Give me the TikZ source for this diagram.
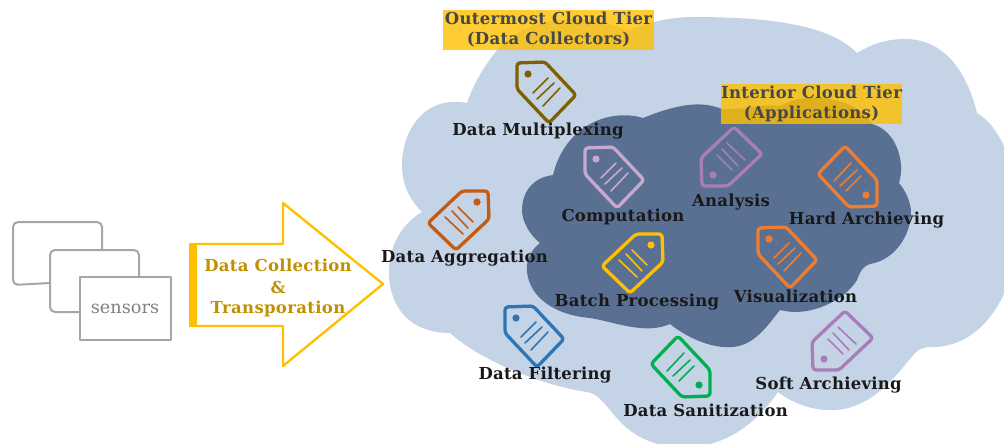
\documentclass[tikz,border=0pt]{standalone}
\usepackage{fontspec}
\setmainfont{DejaVu Serif}
\definecolor{cloudout}{HTML}{C4D3E6}
\definecolor{cloudin}{HTML}{5A7093}
\definecolor{amber}{HTML}{FFC000}
\definecolor{amberdark}{HTML}{BF9000}
\definecolor{greyline}{HTML}{A6A6A6}
\definecolor{tagbrown}{HTML}{7F6000}
\definecolor{tagrust}{HTML}{C55A11}
\definecolor{taglilac}{HTML}{C9A8D0}
\definecolor{tagpurple}{HTML}{A97DB8}
\definecolor{tagorange}{HTML}{ED7D31}
\definecolor{tagblue}{HTML}{2E75B6}
\definecolor{taggreen}{HTML}{00B050}
\newcommand{\lbl}[2]{\fontsize{#1}{20}\selectfont\bfseries\addfontfeature{LetterSpace=#2}}
\tikzset{
  pics/pricetag/.style={code={
    \draw[#1,line width=3.3pt,rounded corners=3pt,line join=round]
      (-28,-29) -- (0,-30) -- (31,3) -- (4,31) -- (-28,-3) -- cycle;
    \fill[#1] (-17,-18) circle (3.6);
    \draw[#1,line width=1.6pt,line cap=round] (-12,1) -- (3,-14);
    \draw[#1,line width=1.6pt,line cap=round] (-8,7) -- (9,-9);
    \draw[#1,line width=1.6pt,line cap=round] (-2,14) -- (15,-4);
  }},
  tagtext/.style={font=\lbl{16.5}{1.5},text=black!90,inner sep=0pt,anchor=center},
  tierbox/.style={fill=amber,fill opacity=.8,text opacity=1,text=black!72,font=\lbl{16.5}{2},
    align=center,inner sep=0pt,minimum width=#1,minimum height=40pt},
  sensorline/.style={draw=greyline,line width=2pt,line join=round},
  flowtext/.style={font=\lbl{16.5}{2},text=amberdark,inner sep=0pt}
}
\begin{document}
\begin{tikzpicture}[x=1pt,y=-1pt]
\useasboundingbox (0,0) rectangle (1004,444);
\begin{scope}
\clip (0,0) rectangle (1004,444);
% outer cloud
\fill[cloudout]
  (467,103) .. controls (425,95) and (402,130) .. (402,165)
  .. controls (402,185) and (410,200) .. (422,212)
  .. controls (400,225) and (389,248) .. (389,272)
  .. controls (389,305) and (408,333) .. (450,333)
  .. controls (480,360) and (540,385) .. (587,392)
  .. controls (612,395) and (615,447) .. (685,447)
  .. controls (725,447) and (755,425) .. (778,392)
  .. controls (795,405) and (815,411) .. (835,410)
  .. controls (875,408) and (900,370) .. (915,353)
  .. controls (920,348) and (925,347) .. (935,347)
  .. controls (985,345) and (1018,290) .. (1018,225)
  .. controls (1018,175) and (1005,130) .. (977,113)
  .. controls (965,65) and (940,39) .. (905,39)
  .. controls (885,39) and (870,45) .. (857,53)
  .. controls (830,25) and (770,17) .. (693,17)
  .. controls (670,17) and (645,23) .. (627,31)
  .. controls (590,12) and (525,15) .. (497,50)
  .. controls (483,68) and (473,85) .. (467,103) -- cycle;
% inner cloud
\fill[cloudin]
  (643,118) .. controls (610,108) and (565,125) .. (553,175)
  .. controls (530,178) and (522,195) .. (522,210)
  .. controls (522,222) and (530,235) .. (540,243)
  .. controls (528,252) and (526,265) .. (527,272)
  .. controls (530,298) and (555,315) .. (590,318)
  .. controls (615,322) and (645,335) .. (670,324)
  .. controls (690,340) and (715,349) .. (733,347)
  .. controls (755,345) and (768,325) .. (780,310)
  .. controls (810,318) and (845,300) .. (857,280)
  .. controls (860,272) and (862,267) .. (870,264)
  .. controls (895,260) and (911,235) .. (911,212)
  .. controls (911,202) and (905,190) .. (899,183)
  .. controls (906,160) and (895,130) .. (872,124)
  .. controls (860,105) and (835,97) .. (810,98)
  .. controls (798,98) and (788,102) .. (780,106)
  .. controls (765,103) and (745,110) .. (722,109)
  .. controls (700,100) and (675,105) .. (643,118) -- cycle;
\end{scope}
% sensors
\draw[sensorline,rounded corners=5pt] (50,283) -- (13,285) -- (13,222) -- (102,222) -- (102,250);
\draw[sensorline,rounded corners=5pt] (79,312) -- (50,312) -- (50,250) -- (139,250) -- (139,277);
\node[sensorline,minimum width=91pt,minimum height=63pt,inner sep=0pt,text=black!50,font=\fontsize{17.7}{20}\selectfont] (sensors) at (125,308.5) {sensors};
% flow arrow
\fill[amber] (189,243) rectangle (197,327);
\draw[amber,line width=2.4pt,line join=round] (197,244) -- (283,244) -- (283,203) -- (383,284) -- (283,366) -- (283,326) -- (197,326);
\node[flowtext] (flowa) at (278,265) {Data Collection};
\node[flowtext] (flowb) at (278,287) {\&};
\node[flowtext] (flowc) at (278,309) {Transporation};
% tier labels
\node[tierbox=211pt] (outer) at (548.5,30) {Outermost Cloud Tier\\(Data Collectors)};
\node[tierbox=181pt] (inner) at (811.5,104) {Interior Cloud Tier\\(Applications)};
% tags
\pic at (545,92) {pricetag=tagbrown};
\pic[rotate=-90] at (459,219) {pricetag=tagrust};
\pic at (613,177) {pricetag=taglilac};
\pic[rotate=90] at (731,158) {pricetag=tagpurple};
\pic[rotate=180] at (849,177) {pricetag=tagorange};
\pic[rotate=-90] at (633,262) {pricetag=amber};
\pic at (786,257) {pricetag=tagorange};
\pic at (533,336) {pricetag=tagblue};
\pic[rotate=180] at (682,367) {pricetag=taggreen};
\pic[rotate=90] at (842,342) {pricetag=tagpurple};
% tag labels
\node[tagtext] (t1) at (538,131.5) {Data Multiplexing};
\node[tagtext] (t2) at (464.5,258.5) {Data Aggregation};
\node[tagtext] (t3) at (623,216.5) {Computation};
\node[tagtext] (t4) at (731,202.5) {Analysis};
\node[tagtext] (t5) at (866.5,220.5) {Hard Archieving};
\node[tagtext] (t6) at (637,302.5) {Batch Processing};
\node[tagtext] (t7) at (795.5,296.5) {Visualization};
\node[tagtext] (t8) at (545,375.5) {Data Filtering};
\node[tagtext] (t9) at (705.5,410.5) {Data Sanitization};
\node[tagtext] (t10) at (828.5,385.5) {Soft Archieving};
\end{tikzpicture}
\end{document}
